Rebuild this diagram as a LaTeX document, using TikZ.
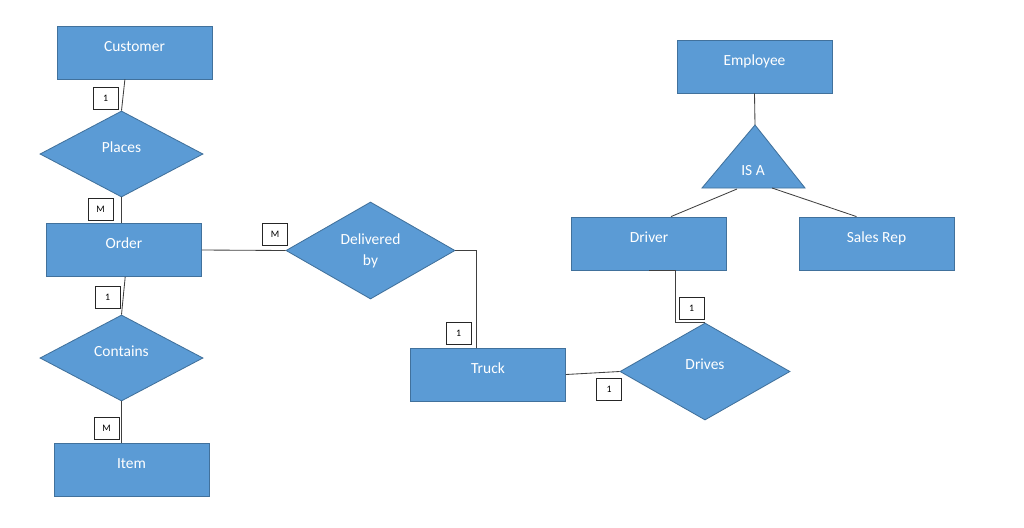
\documentclass[tikz,border=0pt]{standalone}
\usepackage{fontspec}
\setmainfont{Carlito}
\usepackage{tikz}
\usetikzlibrary{shapes.geometric, positioning, calc}
\definecolor{erfill}{HTML}{5B9BD5}
\definecolor{erborder}{HTML}{41719C}
\definecolor{erline}{HTML}{404040}

\begin{document}
\begin{tikzpicture}[x=0.025cm, y=-0.025cm,
    entity/.style={rectangle, draw=erborder, fill=erfill, line width=0.6pt, minimum width=3.875cm, minimum height=1.325cm, inner sep=0pt, text=white, font=\fontsize{11}{13}\selectfont, text height=7.1pt, text depth=8.6pt},
    relation/.style={diamond, draw=erborder, fill=erfill, line width=0.6pt, minimum width=#1, inner sep=0pt, text=white, font=\fontsize{11}{15}\selectfont, align=center},
    card/.style={rectangle, draw=black!85, fill=white, line width=0.5pt, minimum width=0.625cm, minimum height=0.55cm, inner sep=0pt, font=\fontsize{7}{8}\selectfont},
    link/.style={draw=erline, line width=0.6pt},
]
\useasboundingbox (0,0) rectangle (1024,527);

\node[entity] (customer) at (134.5,52.5) {Customer};
\node[relation=4.075cm, minimum height=2.15cm, text height=7.1pt, text depth=9.8pt] (places) at (121.5,154) {Places};
\node[entity] (order) at (124,250) {Order};
\node[relation=4.075cm, minimum height=2.15cm, text height=7.1pt, text depth=9.8pt] (contains) at (121.5,358) {Contains};
\node[entity] (item) at (131.5,469.5) {Item};
\node[relation=4.225cm, minimum height=2.425cm] (delivered) at (370.5,250.5) {Delivered\\by};
\node[entity] (truck) at (488,374.5) {Truck};
\node[relation=4.25cm, minimum height=2.425cm, text height=7.1pt, text depth=9.8pt] (drives) at (705,371.5) {Drives};
\node[entity] (employee) at (754.5,66.5) {Employee};
\node[entity] (driver) at (649,243.5) {Driver};
\node[entity] (salesrep) at (876.5,243.5) {Sales Rep};

\coordinate (isatop) at (755,125);
\coordinate (isaleft) at (702,188);
\coordinate (isaright) at (805,188);
\filldraw[draw=erborder, fill=erfill, line width=0.6pt] (isatop) -- (isaright) -- (isaleft) -- cycle;
\node[text=white, font=\fontsize{11}{13}\selectfont] (isa) at (753,171) {IS A};

\draw[link] ([xshift=-0.24cm]customer.south) -- (places.north);
\draw[link] (places.south) -- (places.south |- order.north);
\draw[link] ([xshift=0.03cm]order.south) -- (contains.north);
\draw[link] (contains.south) -- (contains.south |- item.north);
\draw[link] (order.east) -- (delivered.west);
\draw[link] (delivered.east) -| ([xshift=-0.3cm]truck.north);
\draw[link] (truck.east) -- (drives.west);
\draw[link] (driver.south) -- ++(26,0) |- (drives.north);
\draw[link] (employee.south) -- (isatop);
\draw[link] (737,189) -- ([xshift=0.55cm]driver.north);
\draw[link] (772,188) -- ([xshift=-0.5cm]salesrep.north);

\node[card] (c1) at (105.5,98) {1};
\node[card] (c2) at (100.5,209.5) {M};
\node[card] (c3) at (107.5,297.5) {1};
\node[card] (c4) at (106.5,428.5) {M};
\node[card] (c5) at (275,234.5) {M};
\node[card] (c6) at (458.5,333) {1};
\node[card] (c7) at (609,389) {1};
\node[card] (c8) at (691.5,308) {1};
\end{tikzpicture}
\end{document}
